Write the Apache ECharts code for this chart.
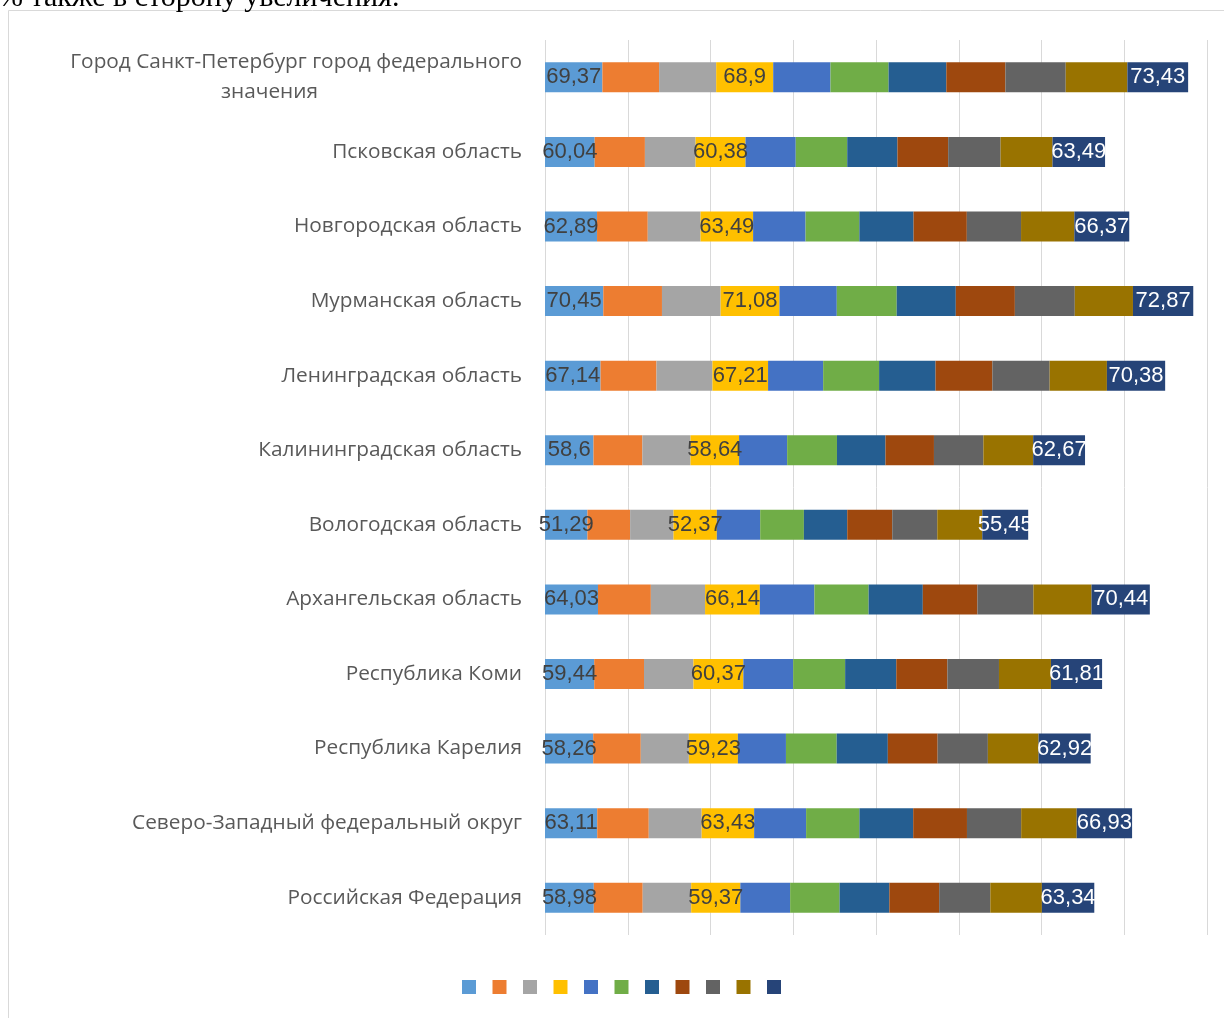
<!DOCTYPE html>
<html>
<head>
<meta charset="utf-8">
<script src="https://cdn.jsdelivr.net/npm/echarts@6/dist/echarts.min.js"></script>
<style>
html,body{margin:0;padding:0;background:#fff;}
#c{width:1224px;height:1018px;}
</style>
</head>
<body>
<div id="c"></div>
<script>
// Categories, top to bottom
var categories = [
  'Город Санкт-Петербург город федерального значения',
  'Псковская область',
  'Новгородская область',
  'Мурманская область',
  'Ленинградская область',
  'Калининградская область',
  'Вологодская область',
  'Архангельская область',
  'Республика Коми',
  'Республика Карелия',
  'Северо-Западный федеральный округ',
  'Российская Федерация'
];
var seriesNames = ['Ряд 1','Ряд 2','Ряд 3','Ряд 4','Ряд 5','Ряд 6','Ряд 7','Ряд 8','Ряд 9','Ряд 10','Ряд 11'];
// values per series (same order as categories)
var s1  = [69.37, 60.04, 62.89, 70.45, 67.14, 58.6, 51.29, 64.03, 59.44, 58.26, 63.11, 58.98];
var s2  = [68.5, 60.7, 61.3, 70.9, 67.6, 59.1, 51.6, 63.9, 60.2, 57.5, 62.3, 59.1];
var s3  = [69.0, 61.2, 63.8, 70.9, 67.6, 58.2, 52.4, 65.5, 59.7, 58.1, 63.9, 58.6];
var s4  = [68.9, 60.38, 63.49, 71.08, 67.21, 58.64, 52.37, 66.14, 60.37, 59.23, 63.43, 59.37];
var s5  = [69.2, 60.7, 63.4, 69.3, 66.6, 58.1, 52.4, 66.0, 60.2, 58.1, 62.8, 60.2];
var s6  = [70.2, 62.2, 65.0, 72.4, 67.6, 60.2, 52.8, 65.5, 62.8, 61.3, 64.4, 59.7];
var s7  = [69.8, 60.7, 65.5, 71.4, 68.2, 58.6, 52.4, 65.5, 61.8, 61.8, 65.0, 60.2];
var s8  = [71.4, 61.3, 64.4, 71.4, 68.7, 58.6, 54.4, 66.0, 61.8, 60.2, 65.0, 60.2];
var s9  = [72.9, 63.3, 65.5, 72.4, 69.2, 59.7, 54.4, 67.6, 62.3, 60.7, 65.5, 61.8];
var s10 = [74.5, 62.8, 64.4, 70.3, 69.2, 60.2, 54.4, 70.3, 62.8, 61.3, 67.1, 62.3];
var s11 = [73.43, 63.49, 66.37, 72.87, 70.38, 62.67, 55.45, 70.44, 61.81, 62.92, 66.93, 63.34];
var allSeries = [s1,s2,s3,s4,s5,s6,s7,s8,s9,s10,s11];
var labeledSeries = [0, 3, 10];
var colors = ['#5B9BD5','#ED7D31','#A5A5A5','#FFC000','#4472C4','#70AD47','#255E91','#9E480E','#636363','#997300','#264478'];

var series = allSeries.map(function(d, i){
  var showLbl = labeledSeries.indexOf(i) >= 0;
  return {
    name: seriesNames[i],
    type: 'bar',
    stack: 'total',
    barWidth: 30,
    data: d,
    itemStyle: {color: colors[i]},
    label: {
      show: showLbl,
      position: 'inside',
      formatter: function(p){ return String(p.value).replace('.', ','); },
      color: i === 10 ? '#ffffff' : '#404040',
      fontFamily: '"Liberation Sans Narrow", "Liberation Sans", sans-serif',
      fontSize: 22
    },
    labelLayout: {hideOverlap: false},
    emphasis: {disabled: true}
  };
});

var chart = echarts.init(document.getElementById('c'), null, {renderer: 'canvas'});
chart.setOption({
  animation: false,
  color: colors,
  graphic: [
    {type: 'rect', shape: {x: 8.5, y: 10.5, width: 1240, height: 1040}, style: {fill: 'none', stroke: '#d9d9d9', lineWidth: 1}, z: -10},
    {type: 'text', x: -2, y: 13, style: {text: '% также в сторону увеличения.', font: '30px "Liberation Serif", serif', fill: '#000', textVerticalAlign: 'bottom'}}
  ],
  grid: {left: 545, right: 17, top: 40, bottom: 83, containLabel: false},
  legend: {
    show: true,
    bottom: 19,
    left: 457,
    itemWidth: 14,
    itemHeight: 14,
    itemGap: 16.5,
    icon: 'rect',
    formatter: function(){ return ''; },
    textStyle: {fontSize: 1, padding: 0},
    data: seriesNames
  },
  xAxis: {
    type: 'value',
    min: 0,
    max: 800,
    interval: 100,
    axisLabel: {show: false},
    axisLine: {show: false},
    axisTick: {show: false},
    splitLine: {show: true, lineStyle: {color: '#d9d9d9', width: 1}}
  },
  yAxis: {
    type: 'category',
    data: categories,
    inverse: true,
    axisLine: {show: false},
    axisTick: {show: false},
    axisLabel: {
      margin: 23,
      color: '#595959',
      fontFamily: '"Open Sans", sans-serif',
      fontSize: 20.8,
      formatter: function(v){
        if (v.length > 40) {
          var k = v.lastIndexOf(' ');
          return '{a|' + v.slice(0, k) + '}\n{b|' + v.slice(k + 1) + '}';
        }
        return v;
      },
      rich: {
        a: {color: '#595959', fontFamily: '"Open Sans", sans-serif', fontSize: 20.8, lineHeight: 30},
        b: {color: '#595959', fontFamily: '"Open Sans", sans-serif', fontSize: 20.8, lineHeight: 30, padding: [0, 204, 0, 0]}
      }
    }
  },
  series: series
});
</script>
</body>
</html>
